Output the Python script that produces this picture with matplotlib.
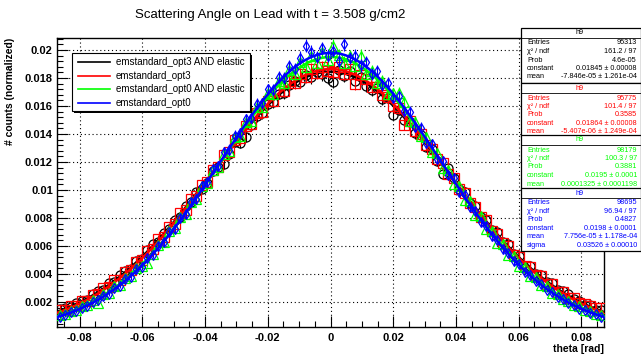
import numpy as np
import matplotlib
matplotlib.use("Agg")
import matplotlib.pyplot as plt
from matplotlib.patches import Rectangle
from matplotlib.ticker import MultipleLocator, FuncFormatter

plt.rcParams['font.family'] = ['Liberation Sans', 'DejaVu Sans']

# 100 bins between -5 and +5 degrees
x_lo, x_hi = -0.0872665, 0.0872665
nbins = 100

# bin contents in units of 1e-4 (left half then right half)
black_vals = [14.8, 15.9, 16.2, 19.6, 20.9, 21.5, 25.8, 27.6, 28.7, 33.4, 34.2, 39.1, 42.3, 43.8, 49.5, 51.0, 56.9, 61.2, 63.0, 69.5,
              72.1, 78.9, 81.0, 88.6, 91.2, 98.5, 101.0, 104.9, 113.6, 116.5, 118.5, 126.0, 134.5, 133.5, 138.0, 146.2, 152.8, 154.9, 161.5, 162.8,
              168.9, 169.4, 175.1, 177.6, 177.0, 182.0, 180.4, 184.6, 182.5, 179.8,
              177.2, 186.0, 181.5, 184.8, 178.0, 180.9, 174.2, 171.5, 172.6, 165.0, 165.8, 153.8, 157.4, 149.8, 148.6, 140.5, 139.2, 131.0, 129.6, 120.4,
              111.5, 115.7, 108.9, 100.8, 98.6, 90.4, 88.5, 80.6, 78.8, 71.2, 69.9, 62.5, 61.1, 54.0, 53.2, 44.1, 45.8, 40.0, 39.2, 34.1,
              33.3, 28.5, 27.8, 25.5, 21.8, 21.0, 17.6, 17.5, 14.3, 14.2]
red_vals = [14.1, 14.0, 17.2, 16.9, 20.8, 20.9, 24.9, 25.4, 29.8, 30.5, 35.5, 36.0, 41.6, 42.7, 48.9, 49.8, 56.3, 57.8, 64.9, 66.5,
            73.8, 75.9, 83.5, 85.4, 93.6, 95.5, 103.9, 105.9, 114.6, 116.4, 125.0, 126.9, 135.4, 137.0, 145.4, 146.8, 154.9, 155.6, 163.5, 163.8,
            171.0, 170.6, 177.6, 176.3, 182.8, 180.6, 186.2, 183.4, 188.0, 184.9,
            184.0, 187.5, 183.2, 186.1, 176.0, 181.8, 179.2, 173.9, 173.6, 167.5, 166.2, 160.1, 158.5, 146.5, 149.3, 142.2, 139.8, 132.1, 129.6, 121.9,
            119.1, 111.5, 108.5, 101.0, 98.2, 90.5, 88.0, 80.4, 78.3, 70.9, 68.9, 62.0, 60.2, 53.7, 52.3, 46.0, 45.0, 39.1, 38.4, 33.0,
            32.5, 27.4, 27.3, 22.6, 22.8, 19.5, 18.9, 17.2, 15.5, 15.8]
green_vals = [10.9, 11.2, 13.9, 14.1, 17.2, 17.6, 21.1, 19.0, 25.8, 26.7, 31.1, 32.4, 37.4, 38.8, 44.5, 46.0, 47.5, 54.1, 61.0, 63.0,
              70.4, 72.6, 80.6, 82.9, 91.4, 93.8, 102.7, 104.9, 114.3, 116.2, 126.0, 127.6, 137.6, 138.8, 148.8, 149.6, 159.5, 159.6, 169.4, 168.6,
              178.2, 176.5, 185.6, 183.0, 191.5, 187.9, 196.0, 191.0, 198.5, 192.6,
              203.0, 196.5, 191.0, 195.8, 188.5, 196.0, 183.2, 184.9, 176.5, 177.8, 168.6, 169.0, 169.5, 163.0, 149.5, 148.8, 138.5, 137.9, 127.0, 126.1,
              115.8, 114.5, 104.2, 103.0, 93.0, 91.8, 82.0, 81.2, 71.8, 71.0, 62.2, 61.5, 53.5, 52.9, 45.5, 44.9, 38.3, 37.7, 32.0, 31.3,
              26.6, 25.8, 21.8, 20.9, 17.7, 16.9, 14.1, 13.6, 11.2, 10.8]
blue_vals = [9.4, 10.6, 12.9, 13.5, 16.0, 17.1, 19.9, 21.2, 24.6, 26.0, 30.0, 31.6, 36.3, 38.0, 43.4, 45.3, 51.3, 53.5, 60.1, 62.6,
             69.8, 72.3, 80.1, 82.9, 91.3, 93.8, 102.9, 105.4, 114.8, 117.1, 126.9, 128.9, 138.8, 140.4, 150.5, 151.6, 161.6, 162.0, 171.8, 171.5,
             180.9, 179.7, 188.5, 186.5, 194.5, 203.0, 198.9, 194.9, 201.5, 196.0,
             199.5, 192.0, 204.0, 194.2, 196.0, 189.0, 191.5, 182.6, 184.8, 175.0, 176.5, 166.0, 166.8, 156.1, 155.9, 145.3, 144.6, 133.9, 132.8, 122.1,
             120.8, 110.5, 108.6, 98.9, 96.6, 87.8, 85.3, 77.0, 74.5, 67.1, 64.5, 57.6, 55.1, 49.0, 46.9, 41.4, 39.3, 34.7, 32.7, 28.6,
             27.0, 23.4, 22.0, 19.0, 17.8, 15.2, 14.3, 12.1, 11.3, 9.5]

labels = ["emstandard_opt3 AND elastic", "emstandard_opt3", "emstandard_opt0 AND elastic", "emstandard_opt0"]
colors = ["black", "#ff0000", "#00ff00", "#0000ff"]
markers = ["o", "s", "^", "d"]
entries = [95313, 95775, 98179, 98695]
fit_const = [0.01845, 0.01864, 0.0195, 0.0198]
fit_mean = [-7.846e-05, -5.407e-06, 0.0001325, 7.756e-05]
fit_sigma = [0.0378, 0.0374, 0.0357, 0.03526]

stats_text = [
    [("Entries", "95313"), ("χ² / ndf", "161.2 / 97"), ("Prob", "4.6e-05"),
     ("constant", "0.01845 ± 0.00008"), ("mean", "-7.846e-05 ± 1.261e-04")],
    [("Entries", "95775"), ("χ² / ndf", "101.4 / 97"), ("Prob", "0.3585"),
     ("constant", "0.01864 ± 0.00008"), ("mean", "-5.407e-06 ± 1.249e-04")],
    [("Entries", "98179"), ("χ² / ndf", "100.3 / 97"), ("Prob", "0.3881"),
     ("constant", "0.0195 ± 0.0001"), ("mean", "0.0001325 ± 0.0001198")],
    [("Entries", "98695"), ("χ² / ndf", "96.94 / 97"), ("Prob", "0.4827"),
     ("constant", "0.0198 ± 0.0001"), ("mean", "7.756e-05 ± 1.178e-04"), ("sigma", "0.03526 ± 0.00010")],
]

W, H = 641, 355
fig = plt.figure(figsize=(W / 100, H / 100), dpi=100)
ax = fig.add_axes([57 / W, 1 - 327 / H, (604 - 57) / W, (327 - 38) / H])

edges = np.linspace(x_lo, x_hi, nbins + 1)
centers = 0.5 * (edges[1:] + edges[:-1])
xf = np.linspace(x_lo, x_hi, 500)

series = [black_vals, red_vals, green_vals, blue_vals]
for i in range(4):
    y = np.array(series[i]) * 1e-4
    err = np.sqrt(y / entries[i])
    ax.errorbar(centers, y, yerr=err, fmt="none", ecolor=colors[i], elinewidth=0.8, zorder=2 + i)
    ax.plot(centers, y, linestyle="none", marker=markers[i], markersize=6.5 if markers[i] != "d" else 5.5,
            markerfacecolor="none", markeredgecolor=colors[i], markeredgewidth=0.9, zorder=2 + i)
    yf = fit_const[i] * np.exp(-0.5 * ((xf - fit_mean[i]) / fit_sigma[i]) ** 2)
    ax.plot(xf, yf, color=colors[i], linewidth=1.8, zorder=2.5 + i)

ax.set_xlim(x_lo, x_hi)
ax.set_ylim(0.000214, 0.020857)
ax.xaxis.set_major_locator(MultipleLocator(0.02))
ax.xaxis.set_minor_locator(MultipleLocator(0.005))
ax.yaxis.set_major_locator(MultipleLocator(0.002))
ax.yaxis.set_minor_locator(MultipleLocator(0.0004))
fmt = FuncFormatter(lambda v, p: "0" if abs(v) < 1e-9 else ("%g" % v))
ax.xaxis.set_major_formatter(fmt)
ax.yaxis.set_major_formatter(fmt)
ax.tick_params(which="major", direction="in", length=8, width=0.8, labelsize=8, pad=3)
ax.tick_params(which="minor", direction="in", length=4, width=0.8)
ax.tick_params(axis="x", pad=4)
for lab in ax.get_xticklabels() + ax.get_yticklabels():
    lab.set_fontweight("bold")
ax.grid(True, which="major", linestyle=(0, (1, 2.5)), color="black", linewidth=0.8)
for s in ax.spines.values():
    s.set_linewidth(1)

# legend box
lx0, ly0, lx1, ly1 = 72, 53, 250, 111
fig.patches.append(Rectangle((lx0 / W, 1 - ly1 / H), (lx1 - lx0) / W, (ly1 - ly0) / H,
                             transform=fig.transFigure, facecolor="white", edgecolor="black", linewidth=0.8, zorder=10))
fig.patches.append(Rectangle(((lx0 + 2) / W, 1 - (ly1 + 2) / H), (lx1 - lx0) / W, 2 / H,
                             transform=fig.transFigure, facecolor="black", edgecolor="none", zorder=9))
fig.patches.append(Rectangle((lx1 / W, 1 - (ly1 + 2) / H), 2 / W, (ly1 - ly0) / H,
                             transform=fig.transFigure, facecolor="black", edgecolor="none", zorder=9))
for i, yy in enumerate([62, 76, 89, 103]):
    fig.lines.append(plt.Line2D([78 / W, 110 / W], [1 - yy / H] * 2, transform=fig.transFigure,
                                color=colors[i], linewidth=1.2, zorder=11))
    fig.text(116 / W, 1 - yy / H, labels[i], fontsize=7.0, va="center", ha="left", zorder=11)

# stat boxes
box_tops = [28, 83, 135, 188]
for b in range(4):
    top = box_tops[b]
    rows = stats_text[b]
    bottom = top + 10 + 8.5 * len(rows) + 2
    col = colors[b]
    fig.patches.append(Rectangle((521 / W, 1 - bottom / H), (641 - 521) / W, (bottom - top) / H,
                                 transform=fig.transFigure, facecolor="white", edgecolor="black",
                                 linewidth=0.9, zorder=12))
    fig.lines.append(plt.Line2D([521 / W, 1], [1 - (top + 9.5) / H] * 2, transform=fig.transFigure,
                                color="black", linewidth=0.6, zorder=13))
    fig.text(580 / W, 1 - (top + 5) / H, "h9", fontsize=5.2, color=col, ha="center", va="center", zorder=13)
    for r, (k, v) in enumerate(rows):
        yy = top + 15 + 8.5 * r
        fig.text(527 / W, 1 - yy / H, k, fontsize=5.2, color=col, ha="left", va="center", zorder=13)
        fig.text(637 / W, 1 - yy / H, v, fontsize=5.2, color=col, ha="right", va="center", zorder=13)

fig.text(270 / W, 1 - 15 / H, "Scattering Angle on Lead with t = 3.508 g/cm2", fontsize=9.5, ha="center", va="center")
fig.text(604 / W, 1 - 349 / H, "theta [rad]", fontsize=7.5, fontweight="bold", ha="right", va="center")
fig.text(10 / W, 1 - 38 / H, "# counts (normalized)", fontsize=7.5, fontweight="bold", rotation=90,
         ha="center", va="top")

fig.savefig("out.png", dpi=100)
